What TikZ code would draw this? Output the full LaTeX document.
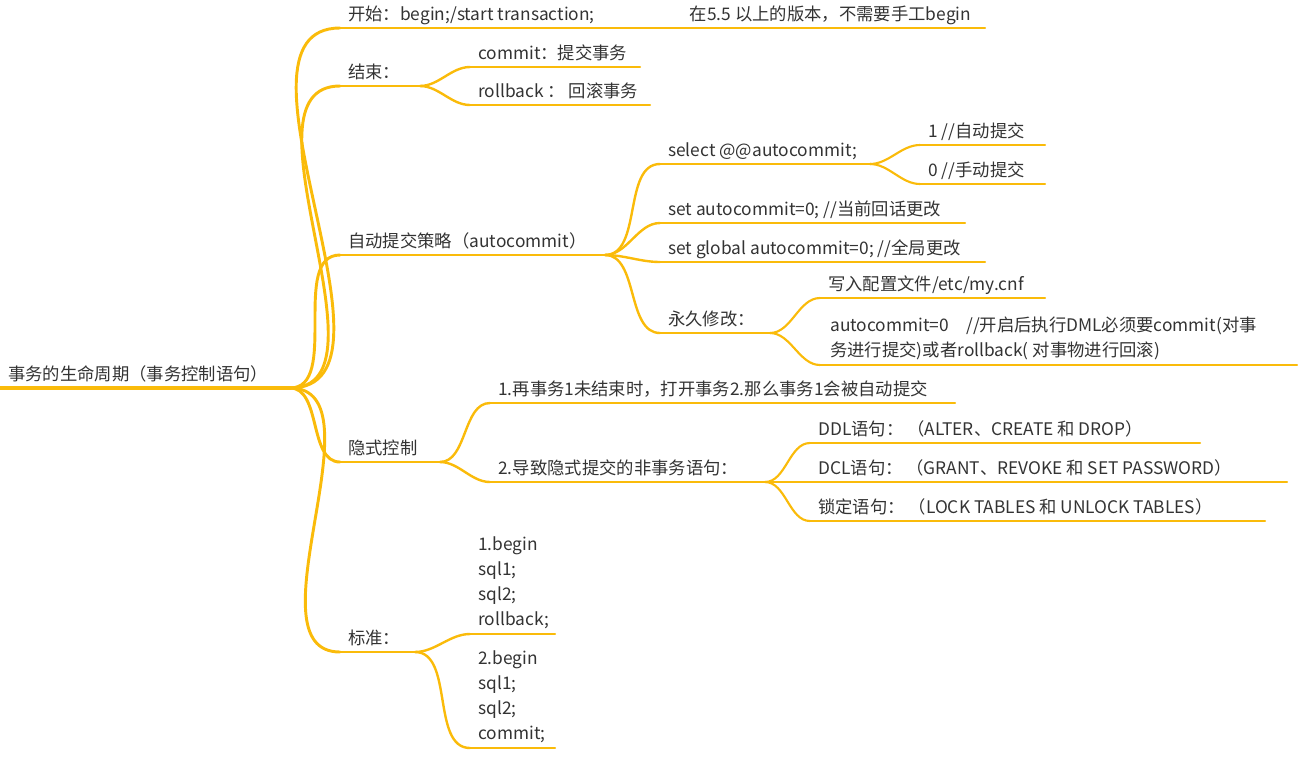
\documentclass[tikz,border=0pt]{standalone}
\usepackage{fontspec}
\setmainfont{Noto Sans CJK SC}
\definecolor{br}{HTML}{FABB0A}
\definecolor{tx}{HTML}{333333}
\tikzset{
  lbl/.style={anchor=base west,inner sep=0pt,text=tx,font=\fontsize{13pt}{18.75pt}\selectfont,align=left},
  mlbl/.style={lbl,anchor=south west},
  ln/.style={draw=br,line width=#1,line cap=round},
  ln/.default=1.6pt
}
\newcommand\brn[6]{%
  \coordinate (#1-s) at (#2,#4);
  \coordinate (#1-e) at (#3,#4);
  \draw[ln=#5] (#1-s) -- (#1-e);
  \node[lbl] (#1) at ($(#1-s)+(8,-8)$) {#6};
}
\newcommand\lk[3]{\draw[ln=#3] (#1-e) to[out=0,in=180,looseness=0.9] (#2-s);}
\usetikzlibrary{calc}
\begin{document}
\begin{tikzpicture}[x=0.75pt,y=-0.75pt]
\useasboundingbox (0,0) rectangle (1309,758);
\brn{root}{0}{290}{388}{2.4pt}{事务的生命周期（事务控制语句）}
\brn{ks}{340}{615}{28}{2pt}{开始：begin;/start transaction;}
\brn{ks2}{615}{985}{28}{1.6pt}{\hspace{50pt}在5.5 以上的版本，不需要手工begin}
\brn{js}{340}{420}{86}{2pt}{结束：}
\brn{cm}{470}{640}{67}{1.6pt}{commit：提交事务}
\brn{rb}{470}{650}{105}{1.6pt}{rollback ： 回滚事务}
\brn{ac}{340}{605}{255}{2pt}{自动提交策略（autocommit）}
\brn{sel}{660}{870}{164}{1.6pt}{select @@autocommit;}
\brn{one}{920}{1045}{145}{1.6pt}{1 //自动提交}
\brn{zero}{920}{1045}{184}{1.6pt}{0 //手动提交}
\brn{set}{660}{965}{223}{1.6pt}{set autocommit=0; //当前回话更改}
\brn{glb}{660}{985}{262}{1.6pt}{set global autocommit=0; //全局更改}
\brn{yj}{660}{770}{333}{1.6pt}{永久修改：}
\brn{cnf}{820}{1045}{298}{1.6pt}{写入配置文件/etc/my.cnf}
\brn{ac0}{820}{1297}{365}{1.6pt}{}
\node[mlbl] (ac0t) at (830,360) {autocommit=0\quad //开启后执行DML必须要commit(对事\\务进行提交)或者rollback( 对事物进行回滚)};
\brn{ys}{340}{440}{462}{2pt}{隐式控制}
\brn{y1}{490}{955}{403}{1.6pt}{1.再事务1未结束时，打开事务2.那么事务1会被自动提交}
\brn{y2}{490}{765}{482}{1.6pt}{2.导致隐式提交的非事务语句：}
\brn{ddl}{810}{1200}{443}{1.6pt}{DDL语句： （ALTER、CREATE 和 DROP）}
\brn{dcl}{810}{1287}{482}{1.6pt}{DCL语句： （GRANT、REVOKE 和 SET PASSWORD）}
\brn{lock}{810}{1265}{521}{1.6pt}{锁定语句： （LOCK TABLES 和 UNLOCK TABLES）}
\brn{bz}{340}{415}{652}{2pt}{标准：}
\brn{b1}{470}{555}{634}{1.6pt}{}
\node[mlbl] (b1t) at (478,629) {1.begin\\sql1;\\sql2;\\rollback;};
\brn{b2}{470}{555}{748}{1.6pt}{}
\node[mlbl] (b2t) at (478,743) {2.begin\\sql1;\\sql2;\\commit;};
\foreach \c in {ks,js,ac,ys,bz} {\lk{root}{\c}{2.2pt}}
\lk{js}{cm}{1.8pt}\lk{js}{rb}{1.8pt}
\foreach \c in {sel,set,glb,yj} {\lk{ac}{\c}{1.8pt}}
\lk{sel}{one}{1.6pt}\lk{sel}{zero}{1.6pt}
\lk{yj}{cnf}{1.6pt}\lk{yj}{ac0}{1.6pt}
\lk{ys}{y1}{1.8pt}\lk{ys}{y2}{1.8pt}
\foreach \c in {ddl,dcl,lock} {\lk{y2}{\c}{1.6pt}}
\lk{bz}{b1}{1.8pt}\lk{bz}{b2}{1.8pt}
\end{tikzpicture}
\end{document}
